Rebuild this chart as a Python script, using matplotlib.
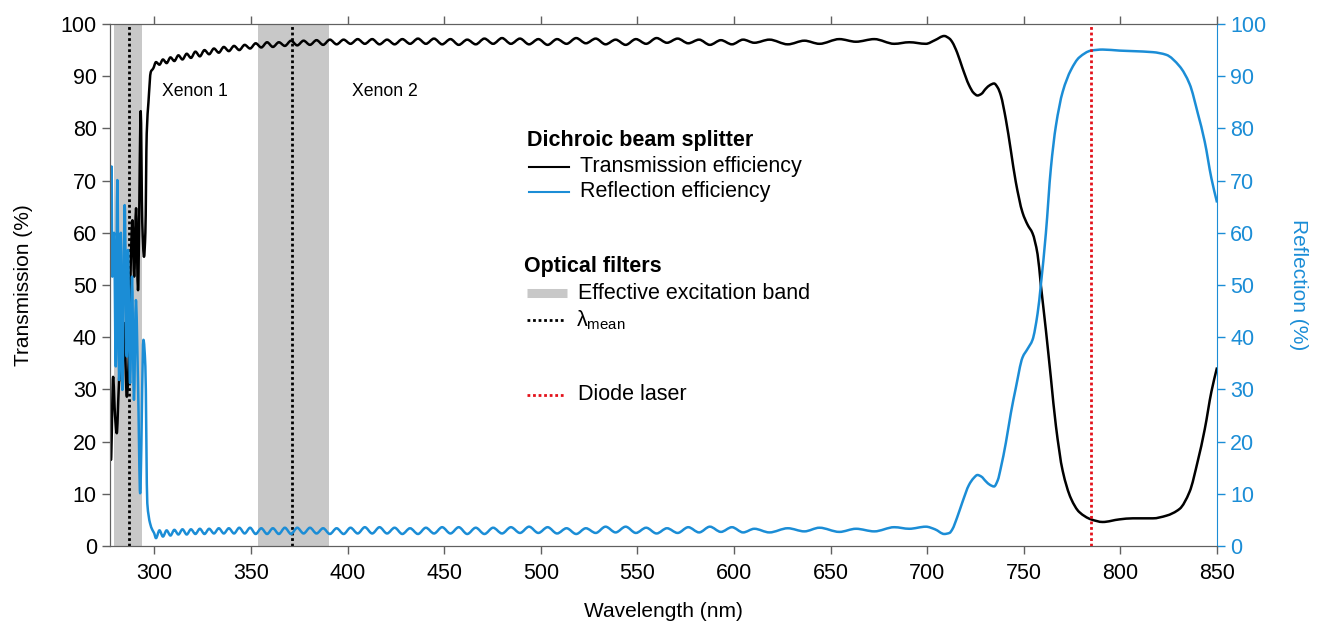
import matplotlib
matplotlib.use("Agg")
import matplotlib.pyplot as plt
from matplotlib.path import Path
from matplotlib.patches import PathPatch
import numpy as np

plt.rcParams["font.family"] = ["Liberation Sans", "DejaVu Sans"]
plt.rcParams["mathtext.default"] = "regular"

BLUE = "#1b8dd6"
RED = "#e3121b"
GREY_BAND = "#c8c8c8"
SPINE = "#606060"

# dichroic beam splitter: noisy UV part, measured separately for T and R
wl_t_start = [277.0, 277.5, 278.6, 279.6, 280.5, 281.5, 282.4, 283.3, 284.3, 285.7,
              286.9, 287.7, 288.6, 289.5, 290.5, 291.5, 292.9, 293.7, 294.6, 295.3,
              296.0, 296.9, 298.1, 299.4]
t_start = [18.4, 16.5, 32.4, 25.0, 21.6, 30.0, 36.0, 31.5, 42.7, 28.6,
           38.2, 53.5, 62.4, 51.6, 64.7, 49.0, 83.3, 62.0, 55.4, 60.0,
           79.0, 85.0, 90.8, 91.5]

wl_r_start = [277.0, 277.3, 277.8, 278.2, 279.1, 280.0, 280.8, 281.7, 282.6, 283.4,
              284.6, 285.7, 286.3, 287.4, 288.4, 289.4, 290.4, 291.5, 292.6, 294.3,
              295.3, 296.3, 297.7, 298.9, 299.8]
r_start = [69.5, 52.0, 72.7, 51.6, 60.0, 34.4, 70.1, 31.8, 60.0, 29.9,
           65.3, 36.3, 56.7, 31.2, 51.6, 28.0, 47.1, 31.2, 10.1, 39.5,
           34.4, 8.2, 4.4, 3.1, 2.5]

# interference ripple across the pass band (peaks / troughs)
wl_ripple = [300.8, 302.6, 304.4, 306.3, 308.3, 310.3, 312.4, 314.5, 316.7, 318.9,
             321.2, 323.5, 325.9, 328.3, 330.8, 333.3, 335.9, 338.5, 341.2, 343.9,
             346.7, 349.5, 352.4, 355.3, 358.3, 361.3, 364.4, 367.5, 370.7, 373.9,
             377.2, 380.5, 383.9, 387.3, 390.8, 394.3, 397.9, 401.5, 405.2, 408.9,
             412.7, 416.5, 420.4, 424.3, 428.3, 432.3, 436.4, 440.5, 444.7, 448.9,
             453.2, 457.5, 461.9, 466.3, 470.8, 475.3, 479.9, 484.5, 489.2, 493.9,
             498.7, 503.5, 508.4, 513.3, 518.3, 523.3, 528.4, 533.5, 538.7, 543.9,
             549.2, 554.5, 559.9, 565.3, 570.8, 576.3, 581.9, 587.5, 593.2, 598.9,
             604.7, 610.5, 618.3, 627.8, 636.4, 644.2, 654.5, 663.1, 672.6]
t_ripple = [92.7, 92.2, 93.2, 92.5, 93.6, 92.9, 94.0, 93.2, 94.3, 93.5,
            94.7, 93.8, 95.0, 94.2, 95.3, 94.5, 95.6, 94.8, 95.8, 95.0,
            96.0, 95.3, 96.3, 95.5, 96.5, 95.6, 96.5, 95.8, 96.8, 95.9,
            96.8, 96.0, 96.9, 96.0, 97.0, 96.1, 97.0, 96.2, 97.1, 96.2,
            97.1, 96.1, 97.0, 96.1, 97.1, 96.2, 97.2, 96.2, 97.2, 96.1,
            97.1, 96.0, 97.0, 96.1, 97.2, 96.2, 97.3, 96.2, 97.2, 96.1,
            97.1, 96.0, 97.1, 96.2, 97.3, 96.3, 97.2, 96.1, 97.0, 96.0,
            97.1, 96.2, 97.3, 96.4, 97.2, 96.3, 97.0, 96.0, 96.9, 96.1,
            97.0, 96.4, 97.0, 96.1, 96.8, 96.2, 97.1, 96.6, 97.1]
r_ripple = [1.5, 3.0, 1.8, 3.0, 2.0, 3.1, 2.2, 3.2, 2.2, 3.2,
            2.3, 3.3, 2.3, 3.3, 2.4, 3.4, 2.4, 3.4, 2.4, 3.5,
            2.4, 3.5, 2.3, 3.4, 2.3, 3.4, 2.3, 3.5, 2.3, 3.5,
            2.4, 3.5, 2.4, 3.4, 2.3, 3.4, 2.3, 3.5, 2.4, 3.6,
            2.4, 3.6, 2.4, 3.5, 2.3, 3.4, 2.3, 3.5, 2.4, 3.6,
            2.4, 3.6, 2.3, 3.5, 2.3, 3.5, 2.4, 3.6, 2.5, 3.7,
            2.5, 3.6, 2.4, 3.4, 2.3, 3.4, 2.5, 3.7, 2.6, 3.7,
            2.5, 3.5, 2.4, 3.4, 2.5, 3.6, 2.6, 3.7, 2.7, 3.6,
            2.6, 3.3, 2.6, 3.4, 2.8, 3.5, 2.7, 3.3, 2.8]

# dichroic edge into the NIR
wl_edge = [682.9, 690.7, 699.3, 704.0, 708.8, 711.5, 713.0, 715.5, 718.2, 721.6,
           724.0, 726.0, 728.0, 730.3, 732.5, 734.6, 736.5, 738.1, 740.7, 743.3,
           745.8, 749.3, 752.0, 754.5, 757.1, 758.8, 761.4, 764.0, 766.6, 770.1,
           774.4, 778.7, 784.8, 790.8, 799.5, 806.4, 816.8, 823.7, 830.6, 835.8,
           840.1, 843.6, 847.1, 850.0]
t_edge = [96.2, 96.5, 96.2, 96.9, 97.7, 97.2, 96.5, 94.5, 91.6, 88.3,
          86.8, 86.3, 86.6, 87.6, 88.3, 88.6, 87.8, 86.3, 81.7, 75.7,
          69.8, 63.9, 61.5, 59.9, 55.9, 50.0, 41.4, 32.2, 23.0, 14.4,
          9.1, 6.5, 5.1, 4.6, 5.1, 5.3, 5.3, 5.8, 7.1, 10.4,
          16.4, 22.3, 29.6, 34.2]
r_edge = [3.6, 3.3, 3.7, 3.2, 2.3, 2.5, 3.2, 5.5, 8.4, 11.7,
          13.0, 13.6, 13.3, 12.4, 11.7, 11.4, 12.6, 15.0, 19.8, 25.5,
          30.2, 36.1, 37.8, 39.5, 44.5, 50.0, 59.9, 72.4, 80.5, 87.0,
          91.2, 93.6, 94.9, 95.1, 94.9, 94.8, 94.6, 94.1, 91.9, 88.5,
          82.8, 77.5, 70.4, 65.8]

# optical filters (Xenon lamp) and diode laser
band_lo = [279.1, 353.6]
band_hi = [293.6, 390.3]
lambda_mean = [286.8, 371.0]
band_names = ["Xenon 1", "Xenon 2"]
band_label_x = [303.9, 402.2]
laser_nm = 785.0

wl_t = np.concatenate([wl_t_start, wl_ripple, wl_edge])
trans = np.concatenate([t_start, t_ripple, t_edge])
wl_r = np.concatenate([wl_r_start, wl_ripple, wl_edge])
refl = np.concatenate([r_start, r_ripple, r_edge])


def smooth_path(x, y):
    """Cubic Bezier path through the samples, flat at local extrema."""
    x = np.asarray(x, float)
    y = np.asarray(y, float)
    h = np.diff(x)
    s = np.diff(y) / h
    m = np.zeros_like(y)
    m[0], m[-1] = s[0], s[-1]
    for i in range(1, len(y) - 1):
        if s[i - 1] * s[i] > 0:
            m[i] = 2 * s[i - 1] * s[i] / (s[i - 1] + s[i])
    verts = [(x[0], y[0])]
    codes = [Path.MOVETO]
    for i in range(len(x) - 1):
        d = h[i] / 3
        verts += [(x[i] + d, y[i] + m[i] * d),
                  (x[i + 1] - d, y[i + 1] - m[i + 1] * d),
                  (x[i + 1], y[i + 1])]
        codes += [Path.CURVE4] * 3
    return Path(verts, codes)


fig = plt.figure(figsize=(13.19, 6.26), dpi=100)
ax = fig.add_axes([0.0834, 0.1278, 0.8393, 0.8339])
ax2 = ax.twinx()

for lo, hi in zip(band_lo, band_hi):
    ax.axvspan(lo, hi, color=GREY_BAND, lw=0, zorder=0)
for lm in lambda_mean:
    ax.axvline(lm, color="black", lw=2.0, ls=(0, (1, 1)), zorder=1)
for name, xl in zip(band_names, band_label_x):
    ax.text(xl, 87.0, name, fontsize=12.7, va="center", ha="left")

ax.add_patch(PathPatch(smooth_path(wl_t, trans), fill=False, edgecolor="black",
                       lw=1.8, joinstyle="round", zorder=2))
ax2.add_patch(PathPatch(smooth_path(wl_r, refl), fill=False, edgecolor=BLUE,
                        lw=1.8, joinstyle="round", zorder=2))
ax2.axvline(laser_nm, color=RED, lw=2.0, ls=(0, (1, 1)), zorder=3)

ax.set_xlim(277, 850)
ax.set_ylim(0, 100)
ax2.set_ylim(0, 100)
ax.set_xticks(np.arange(300, 851, 50))
ax.set_yticks(np.arange(0, 101, 10))
ax2.set_yticks(np.arange(0, 101, 10))

ax.tick_params(axis="both", direction="out", length=6, width=1, color=SPINE,
               labelsize=15.5, top=True)
ax.tick_params(axis="x", pad=6)
ax2.tick_params(axis="y", direction="out", length=6, width=1, color=BLUE,
                labelcolor=BLUE, labelsize=15.5)
for side in ["left", "bottom", "top"]:
    ax.spines[side].set_color(SPINE)
    ax2.spines[side].set_color(SPINE)
ax2.spines["right"].set_color(BLUE)
ax.spines["right"].set_visible(False)

ax.set_xlabel("Wavelength (nm)", fontsize=15, labelpad=13)
ax.set_ylabel("Transmission (%)", fontsize=15, labelpad=20)
ax2.set_ylabel("Reflection (%)", fontsize=15, color=BLUE, rotation=270, labelpad=30)

# hand-built key, grouped into beam splitter and filters
tr = ax.transAxes
kx0, kx1 = 0.3785, 0.4145
ax.text(0.3767, 0.7764, "Dichroic beam splitter", transform=tr, fontsize=15.5,
        fontweight="bold", va="center")
ax.plot([kx0, kx1], [0.7266, 0.7266], color="black", lw=1.5, transform=tr, clip_on=False)
ax.text(0.4246, 0.7266, "Transmission efficiency", transform=tr, fontsize=15.5, va="center")
ax.plot([kx0, kx1], [0.6787, 0.6787], color=BLUE, lw=1.5, transform=tr, clip_on=False)
ax.text(0.4246, 0.6787, "Reflection efficiency", transform=tr, fontsize=15.5, va="center")

ax.text(0.3740, 0.5351, "Optical filters", transform=tr, fontsize=15.5,
        fontweight="bold", va="center")
ax.plot([0.3767, 0.4131], [0.4841, 0.4841], color=GREY_BAND, lw=6.5,
        solid_capstyle="butt", transform=tr, clip_on=False)
ax.text(0.4228, 0.4841, "Effective excitation band", transform=tr, fontsize=15.5, va="center")
ax.plot([0.3767, 0.4100], [0.4330, 0.4330], color="black", lw=2.0, ls=(0, (1, 1)),
        transform=tr, clip_on=False)
ax.text(0.4210, 0.4330, r"λ$_{mean}$", transform=tr, fontsize=15.5, va="center")
ax.plot([0.3767, 0.4100], [0.2893, 0.2893], color=RED, lw=2.0, ls=(0, (1, 1)),
        transform=tr, clip_on=False)
ax.text(0.4228, 0.2893, "Diode laser", transform=tr, fontsize=15.5, va="center")

fig.savefig("out.png", dpi=100)
